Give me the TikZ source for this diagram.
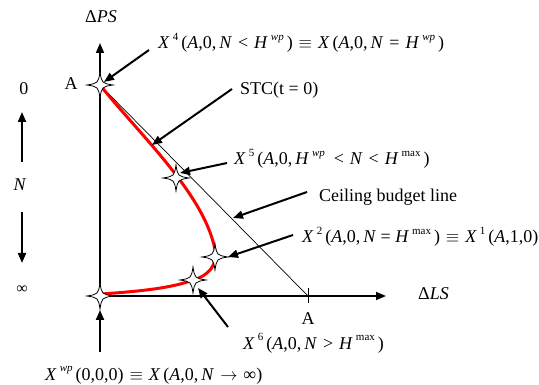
\documentclass[tikz,border=0pt]{standalone}
\usepackage{fontspec}
\setmainfont{Liberation Serif}
\usetikzlibrary{arrows.meta}
\newcommand{\supr}[1]{\,\raisebox{0.45em}{\fontsize{11}{11}\selectfont #1}\,}
\newcommand{\rel}[1]{\hspace{0.33em}#1\hspace{0.33em}}
\begin{document}
\begin{tikzpicture}[x=1pt,y=-1pt,
  font=\fontsize{18}{20}\selectfont,
  axis/.style={line width=1.6pt,-{Triangle[length=10pt,width=8pt]}},
  pointer/.style={line width=2pt,-{Triangle[length=10pt,width=8pt]}},
  lbl/.style={anchor=base west,inner sep=0pt},
  ctr/.style={anchor=base,inner sep=0pt},
  spark/.pic={\draw[fill=white,line width=0.8pt] (0,-13) .. controls (1.8,-1.8) .. (13,0) .. controls (1.8,1.8) .. (0,13) .. controls (-1.8,1.8) .. (-13,0) .. controls (-1.8,-1.8) .. cycle;}]
\useasboundingbox (0,0) rectangle (539,385);
% axes
\coordinate (O) at (100,296);
\coordinate (Ytop) at (100,43);
\coordinate (Xend) at (386,296);
\coordinate (Apt) at (100,85);
\coordinate (Ax) at (308,296);
\draw[axis] (O) -- (Ytop);
\draw[axis] (O) -- (Xend);
\draw[line width=0.7pt] (Apt) -- (Ax);
\draw[line width=0.8pt] (Ax) ++(0,-8) -- ++(0,15);
% STC curve
\coordinate (s2) at (176,178);
\coordinate (s3) at (215,257);
\coordinate (s4) at (193,280);
\draw[red,line width=3pt] (Apt) .. controls (140,135) and (205,195) .. (215,250) .. controls (218,265) and (208,276) .. (s4) .. controls (170,289) and (130,292) .. (101,294);
% stars
\pic at (Apt) {spark};
\pic at (s2) {spark};
\pic at (s3) {spark};
\pic at (s4) {spark};
\pic at (O) {spark};
% axis labels
\node[lbl] (dps) at (85,23) {Δ\textit{PS}};
\node[lbl] (dls) at (418,300) {Δ\textit{LS}};
\node[ctr] (Ay) at (71,90) {A};
\node[ctr] (Axl) at (308,324) {A};
% N scale
\node[ctr] (zero) at (24,95) {0};
\node[ctr] (Nlab) at (20,191) {\textit{N}};
\node[inner sep=0pt,font=\fontsize{16}{18}\selectfont] (inf) at (22,290) {∞};
\coordinate (u1) at (22,162); \coordinate (u2) at (22,112);
\coordinate (d1) at (22,212); \coordinate (d2) at (22,263);
\draw[pointer] (u1) -- (u2);
\draw[pointer] (d1) -- (d2);
% labels
\node[lbl] (L4) at (158,49) {\textit{X}\supr{4}(\textit{A},0,\,\textit{N}\rel{<}\textit{H}\supr{\textit{wp}})\rel{$\equiv$}\textit{X}\,(\textit{A},0,\,\textit{N}\rel{=}\textit{H}\supr{\textit{wp}})};
\node[lbl] (Lstc) at (240,95) {STC(t = 0)};
\node[lbl] (L5) at (234,165) {\textit{X}\supr{5}(\textit{A},0,\,\textit{H}\supr{\textit{wp}}\rel{<}\textit{N}\rel{<}\textit{H}\supr{max})};
\node[lbl] (Lcb) at (319,202) {Ceiling budget line};
\node[lbl] (L2) at (302,243) {\textit{X}\supr{2}(\textit{A},0,\,\textit{N} = \textit{H}\supr{max})\rel{$\equiv$}\textit{X}\supr{1}(\textit{A},1,0)};
\node[lbl] (L6) at (243,349) {\textit{X}\supr{6}(\textit{A},0,\,\textit{N}\rel{>}\textit{H}\supr{max})};
\node[lbl] (Lwp) at (45,380) {\textit{X}\supr{\textit{wp}}(0,0,0)\rel{$\equiv$}\textit{X}\,(\textit{A},0,\,\textit{N}\rel{$\rightarrow$}∞)};
% pointers
\coordinate (p4a) at (149,50); \coordinate (p4b) at (104,82);
\coordinate (pSa) at (232,89); \coordinate (pSb) at (152,145);
\coordinate (p5a) at (227,163); \coordinate (p5b) at (180,173);
\coordinate (pCa) at (307,192); \coordinate (pCb) at (233,218);
\coordinate (p2a) at (293,235); \coordinate (p2b) at (228,257);
\coordinate (p6a) at (228,327); \coordinate (p6b) at (198,288);
\coordinate (pWa) at (100,352); \coordinate (pWb) at (100,310);
\draw[pointer] (p4a) -- (p4b);
\draw[pointer] (pSa) -- (pSb);
\draw[pointer] (p5a) -- (p5b);
\draw[pointer] (pCa) -- (pCb);
\draw[pointer] (p2a) -- (p2b);
\draw[pointer] (p6a) -- (p6b);
\draw[pointer] (pWa) -- (pWb);
\end{tikzpicture}
\end{document}
